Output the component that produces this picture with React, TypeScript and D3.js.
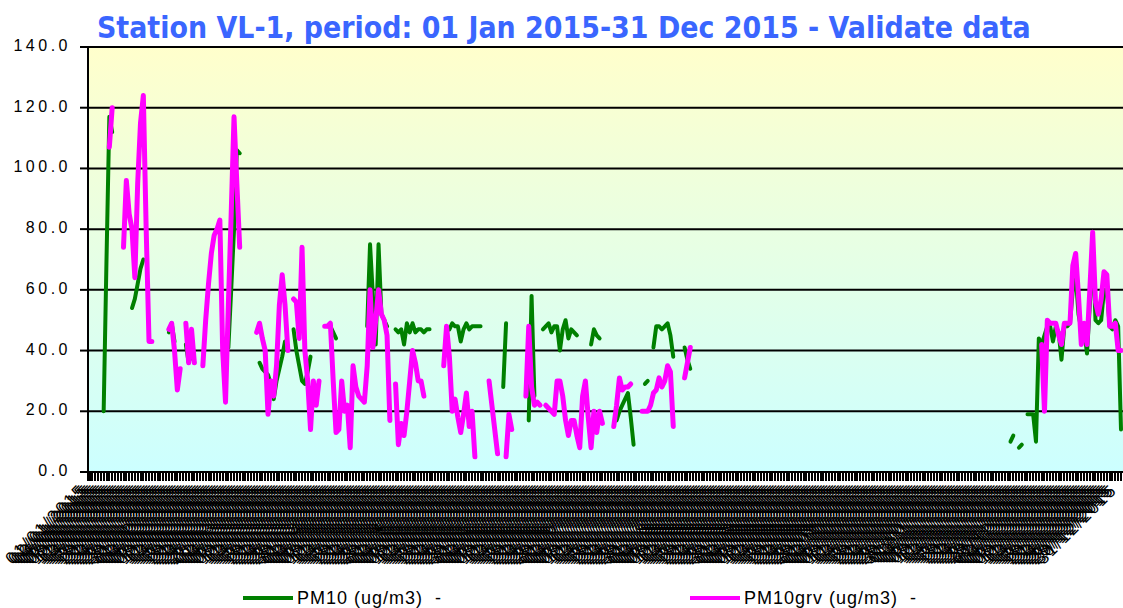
import * as d3 from "d3";
import { useEffect, useRef } from "react";

// runs of daily values: [day of year (0 = 01 Jan 2015), values...]
const pm10Runs: [number, number[]][] = [
  [5, [20, 70, 117, 112]],
  [15, [54, 57, 62, 67, 70]],
  [28, [46, 49, 43]],
  [34, [42, 36, 40, 36]],
  [49, [41, 60, 80, 106, 105]],
  [60, [36, 34, 33, 32, 29, 24, 30, 34, 38, 43]],
  [72, [47, 40, 35, 30, 29, 33, 38]],
  [84, [48, 48, 46, 44]],
  [98, [48, 75, 58, 42, 75, 52, 50, 48]],
  [108, [47, 46, 47, 42, 49, 46, 49, 46, 47, 47, 46, 47, 47]],
  [127, [47, 49, 48, 48, 43, 47, 49, 47, 48, 48, 48, 48]],
  [146, [28, 49]],
  [155, [17, 58, 25]],
  [160, [47, 48, 49, 46, 48, 48, 40, 47, 50, 44, 47, 46, 45]],
  [177, [42, 47, 45, 44]],
  [186, [17, 20, 22, 24, 26, 18, 9]],
  [196, [29, 30]],
  [199, [41, 48, 48, 47, 48, 49, 45, 38]],
  [210, [41, 37, 34]],
  [325, [10, 12]],
  [328, [8, 9]],
  [331, [19, 19, 19, 10, 44, 42, 45, 48, 48, 43, 48, 46, 37, 48, 48, 49, 60, 65,
    52, 47, 47, 39, 55, 75, 50, 49, 50, 60, 60, 48, 47, 50, 48, 14]],
];

const pm10grvRuns: [number, number[]][] = [
  [7, [107, 120]],
  [12, [74, 96, 85, 80, 64, 95, 115, 124, 80, 43, 43]],
  [28, [47, 49, 40, 27, 34]],
  [34, [49, 36, 47, 36]],
  [40, [35, 50, 62, 72, 78, 80, 83, 40, 23, 55, 85, 117, 95, 74]],
  [59, [46, 49, 44, 40, 19, 30, 25, 35, 55, 65, 55, 40]],
  [72, [57, 56, 44, 74, 40, 30, 14, 30, 22, 30]],
  [83, [48, 48, 49, 30, 13, 14, 30, 20, 22, 8, 35, 28, 25, 24, 23, 35, 60, 41,
    50, 60, 52, 50, 45, 17]],
  [108, [29, 9, 16, 12, 20, 30, 40, 36, 30, 30, 25]],
  [125, [35, 48, 38, 20, 24, 18, 13, 19, 26, 15, 20, 5]],
  [141, [30, 22, 14, 6]],
  [147, [5, 19, 14]],
  [154, [25, 48, 28, 22, 23, 22]],
  [161, [22, 21, 20, 19, 30, 30, 25, 17, 12, 17, 17, 12, 8, 25, 30, 18, 8, 20, 13, 20, 16]],
  [185, [15, 22, 31, 27, 28, 28, 29]],
  [195, [20, 20, 20, 22, 26, 27, 31, 28, 30, 35, 33, 15]],
  [210, [31, 36, 41]],
  [336, [42, 20, 50, 49, 49, 49, 45, 42, 49, 49, 49, 68, 72, 58, 42, 49, 42, 60,
    79, 56, 52, 57, 66, 65, 48, 48, 49, 40, 40]],
];

const yTicks = [0, 20, 40, 60, 80, 100, 120, 140];
const days = d3.timeDay.range(new Date(2015, 0, 1), new Date(2016, 0, 1));

const App = () => {
  const svgRef = useRef<SVGSVGElement>(null);

  useEffect(() => {
    const svg = d3.select(svgRef.current);
    svg.selectAll("*").remove();

    const left = 88, right = 1123, top = 47, bottom = 472;
    const x = d3.scaleLinear().domain([0, days.length - 1]).range([89.5, 1121]);
    const y = d3.scaleLinear().domain([0, 140]).range([bottom, top]);

    const grad = svg.append("defs").append("linearGradient")
      .attr("id", "bg").attr("x1", 0).attr("y1", 0).attr("x2", 0).attr("y2", 1);
    grad.append("stop").attr("offset", "0%").attr("stop-color", "#FFFFCC");
    grad.append("stop").attr("offset", "100%").attr("stop-color", "#CCFFFF");

    svg.append("rect")
      .attr("x", left).attr("y", top)
      .attr("width", right - left).attr("height", bottom - top)
      .attr("fill", "url(#bg)");

    // grid lines + top border
    svg.append("g").selectAll("line")
      .data(yTicks.filter((t) => t > 0))
      .join("line")
      .attr("x1", left).attr("x2", right)
      .attr("y1", (d) => y(d)).attr("y2", (d) => y(d))
      .attr("stroke", "#000").attr("stroke-width", 2);

    // y axis
    const yAxis = svg.append("g");
    yAxis.append("line")
      .attr("x1", left).attr("x2", left).attr("y1", top).attr("y2", bottom + 9)
      .attr("stroke", "#000").attr("stroke-width", 2);
    yAxis.selectAll("line.tick").data(yTicks).join("line")
      .attr("class", "tick")
      .attr("x1", 80).attr("x2", left)
      .attr("y1", (d) => y(d)).attr("y2", (d) => y(d))
      .attr("stroke", "#000").attr("stroke-width", 2);
    yAxis.selectAll("text").data(yTicks).join("text")
      .attr("x", 71).attr("y", (d) => y(d) + 4)
      .attr("text-anchor", "end")
      .attr("font-family", "Liberation Sans, Arial, sans-serif")
      .attr("font-size", 16)
      .attr("letter-spacing", 3.5)
      .attr("fill", "#000")
      .text((d) => d.toFixed(1));

    // x axis
    const xAxis = svg.append("g");
    xAxis.append("line")
      .attr("x1", left).attr("x2", right).attr("y1", bottom).attr("y2", bottom)
      .attr("stroke", "#000").attr("stroke-width", 2);
    xAxis.selectAll("line.tick").data(days).join("line")
      .attr("class", "tick")
      .attr("x1", (_, i) => Math.round(x(i))).attr("x2", (_, i) => Math.round(x(i)))
      .attr("y1", bottom).attr("y2", bottom + 9)
      .attr("stroke", "#000").attr("stroke-width", 2)
      .attr("shape-rendering", "crispEdges");
    const fmt = d3.timeFormat("%d/%m/%Y");
    xAxis.selectAll("text").data(days).join("text")
      .attr("transform", (_, i) => `translate(${x(i) - 3}, 491) rotate(-45)`)
      .attr("text-anchor", "end")
      .attr("font-family", "Liberation Sans, Arial, sans-serif")
      .attr("font-size", 17)
      .attr("letter-spacing", 2)
      .attr("fill", "#000")
      .text((d) => fmt(d));

    // series
    const drawRuns = (runs: [number, number[]][], color: string, width: number) => {
      svg.append("g").selectAll("path").data(runs).join("path")
        .attr("d", ([start, vals]) =>
          d3.line<number>().x((_, i) => x(start + i)).y((d) => y(d))(vals)
        )
        .attr("fill", "none")
        .attr("stroke", color)
        .attr("stroke-width", width)
        .attr("stroke-linejoin", "round")
        .attr("stroke-linecap", "round");
    };
    drawRuns(pm10Runs, "#008000", 4);
    drawRuns(pm10grvRuns, "#FF00FF", 5);

    // title (squeezed horizontally, like the narrow bold original)
    const title = svg.append("text")
      .attr("x", 0).attr("y", 0)
      .attr("font-family", "DejaVu Sans, Verdana, sans-serif")
      .attr("font-weight", "bold")
      .attr("font-size", 30)
      .attr("fill", "#3A66FF")
      .text("Station VL-1, period: 01 Jan 2015-31 Dec 2015 - Validate data");
    const tw = (title.node() as SVGTextElement).getComputedTextLength() || 1200;
    title.attr("transform", `translate(97, 38) scale(${934 / tw}, 1)`);

    // legend
    const legend = [
      { label: "PM10 (ug/m3)  -", color: "#008000", x: 243 },
      { label: "PM10grv (ug/m3)  -", color: "#FF00FF", x: 690 },
    ];
    const lg = svg.append("g").selectAll("g").data(legend).join("g");
    lg.append("line")
      .attr("x1", (d) => d.x).attr("x2", (d) => d.x + 50)
      .attr("y1", 598).attr("y2", 598)
      .attr("stroke", (d) => d.color).attr("stroke-width", 4);
    lg.append("text")
      .attr("x", (d) => d.x + 54).attr("y", 604)
      .attr("font-family", "Liberation Sans, Arial, sans-serif")
      .attr("font-size", 18)
      .attr("letter-spacing", 1)
      .attr("fill", "#000")
      .style("white-space", "pre")
      .text((d) => d.label);
  }, []);

  return (
    <svg
      ref={svgRef}
      width={1123}
      height={608}
      style={{ position: "absolute", left: 0, top: 0, background: "#fff" }}
    ></svg>
  );
};

export default App;
